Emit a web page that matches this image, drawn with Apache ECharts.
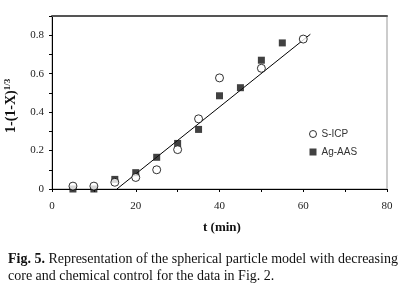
<!DOCTYPE html>
<html>
<head>
<meta charset="utf-8">
<script src="https://cdn.jsdelivr.net/npm/echarts@6/dist/echarts.min.js"></script>
<style>
  html, body { margin: 0; padding: 0; background: #fff; }
  #chart { width: 406px; height: 295px; }
</style>
</head>
<body>
<div id="chart"></div>
<script>
// time (min) of each sample
const times = [5, 10, 15, 20, 25, 30, 35, 40, 45, 50, 55, 60]
// S-ICP (open circles), null where no point
const sIcp = [0.015, 0.015, 0.035, 0.06, 0.10, 0.205, 0.365, 0.578, null, 0.628, null, 0.78]
// Ag-AAS (filled squares)
const agAas = [0, 0, 0.05, 0.085, 0.165, 0.237, 0.31, 0.485, 0.527, 0.67, 0.76, null]
// fitted straight line, start and end
const fitX = [15.5, 61.7]
const fitY = [0, 0.805]

const serif = 'Liberation Serif'

function pairs(xs, ys) {
  let res = []
  xs.forEach((x, i) => {
    if (ys[i] !== null) res.push([x, ys[i]])
  })
  return res
}

let myChart = echarts.init(document.getElementById('chart'))
myChart.setOption({
  animation: false,
  grid: { left: 52, right: 19, top: 16, bottom: 106, show: true, borderColor: '#999', borderWidth: 1 },
  legend: {
    orient: 'vertical',
    left: 309,
    top: 129,
    padding: 0,
    itemWidth: 7,
    itemHeight: 7,
    itemGap: 8,
    textStyle: { fontFamily: 'Liberation Sans', fontSize: 10, color: '#333' },
    data: [
      { name: 'S-ICP', icon: 'circle', itemStyle: { color: '#fff', borderColor: '#000', borderWidth: 1 } },
      { name: 'Ag-AAS', icon: 'rect', itemStyle: { color: '#111' } }
    ]
  },
  xAxis: [{
    type: 'value',
    min: 0,
    max: 80,
    interval: 10,
    splitLine: { show: false },
    axisLine: { lineStyle: { color: '#000', width: 1 } },
    axisTick: { length: 3, lineStyle: { color: '#000' } },
    axisLabel: {
      margin: 12,
      fontFamily: serif,
      fontSize: 11,
      color: '#222',
      formatter: v => (v % 20 === 0 ? String(v) : '')
    }
  }, {
    type: 'value',
    position: 'top',
    min: 0,
    max: 80,
    splitLine: { show: false },
    axisLine: { show: true, lineStyle: { color: '#555', width: 2 } },
    axisTick: { show: false },
    axisLabel: { show: false }
  }],
  yAxis: {
    type: 'value',
    min: 0,
    max: 0.9,
    interval: 0.1,
    splitLine: { show: false },
    axisLine: { show: true, lineStyle: { color: '#000', width: 1 } },
    axisTick: { show: true, length: 3, lineStyle: { color: '#000' } },
    axisLabel: {
      margin: 8,
      fontFamily: serif,
      fontSize: 11,
      color: '#222',
      formatter: v => {
        let k = Math.round(v * 10)
        if (k === 0) return '0'
        if (k % 2 !== 0 || k > 8) return ''
        return (k / 10).toFixed(1)
      }
    }
  },
  series: [
    {
      name: 'fit',
      type: 'line',
      data: pairs(fitX, fitY),
      symbol: 'none',
      lineStyle: { color: '#000', width: 1 },
      z: 1
    },
    {
      name: 'S-ICP',
      type: 'scatter',
      data: pairs(times, sIcp),
      symbol: 'circle',
      symbolSize: 8,
      itemStyle: { color: '#fff', borderColor: '#000', borderWidth: 1 },
      z: 3
    },
    {
      name: 'Ag-AAS',
      type: 'scatter',
      data: pairs(times, agAas),
      symbol: 'rect',
      symbolSize: 7,
      itemStyle: { color: '#111' },
      z: 2
    }
  ],
  graphic: [
    {
      type: 'text',
      x: 3,
      y: 133,
      rotation: Math.PI / 2,
      style: {
        text: '{a|1-(1-X)}{s|1/3}',
        rich: {
          a: { fontFamily: serif, fontSize: 14, fontWeight: 'bold', fill: '#111' },
          s: { fontFamily: serif, fontSize: 9, fontWeight: 'bold', fill: '#111', padding: [0, 0, 7, 0] }
        }
      }
    },
    {
      type: 'text',
      left: 203,
      top: 221,
      style: { text: 't (min)', fontFamily: serif, fontSize: 13, fontWeight: 'bold', fill: '#111' }
    },
    {
      type: 'text',
      left: 8,
      top: 251,
      style: {
        text: '{b|Fig. 5.} Representation of the spherical particle model with decreasing\ncore and chemical control for the data in Fig. 2.',
        fontFamily: serif,
        fontSize: 14,
        lineHeight: 17,
        fill: '#111',
        rich: {
          b: { fontFamily: serif, fontSize: 14, fontWeight: 'bold', fill: '#111' }
        }
      }
    }
  ]
})
</script>
</body>
</html>
